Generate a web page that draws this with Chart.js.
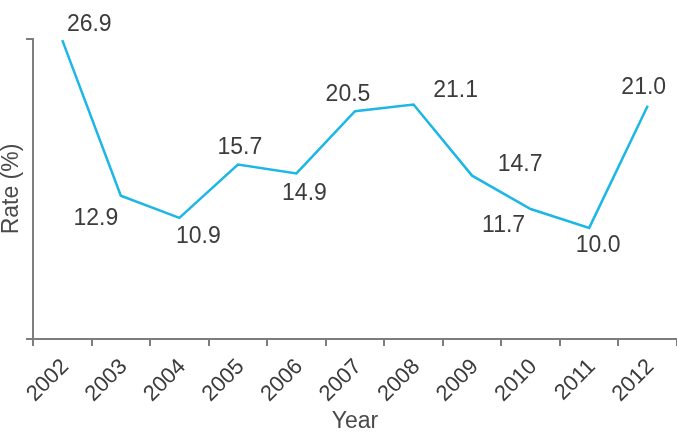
<!DOCTYPE html>
<html>
<head>
<meta charset="utf-8">
<style>
  html, body { margin: 0; padding: 0; background: #fff; }
  #wrap { width: 677px; height: 433px; position: relative; }
</style>
<script src="https://cdn.jsdelivr.net/npm/chart.js@4/dist/chart.umd.min.js"></script>
</head>
<body>
<div id="wrap"><canvas id="chart"></canvas></div>
<script>
var years = ['2002', '2003', '2004', '2005', '2006', '2007', '2008', '2009', '2010', '2011', '2012'];
var rates = [26.9, 12.9, 10.9, 15.7, 14.9, 20.5, 21.1, 14.7, 11.7, 10.0, 21.0];
var rateLabels = ['26.9', '12.9', '10.9', '15.7', '14.9', '20.5', '21.1', '14.7', '11.7', '10.0', '21.0'];

// where each value label sits relative to its point (px)
var labelShift = [[27, -15], [-25, 23], [19, 19], [2, -17], [8, 20], [-7, -17],
                  [42, -14], [48, -11], [-27, 17], [9, 18], [-4, -18]];

var FONT = '"Liberation Sans", Arial, sans-serif';
var AXIS = '#7d7d7d';
var TEXT = '#3c3c3c';

var valueLabels = {
  id: 'valueLabels',
  afterDatasetsDraw: function(chart) {
    var ctx = chart.ctx;
    var meta = chart.getDatasetMeta(0);
    ctx.save();
    ctx.font = '23px ' + FONT;
    ctx.fillStyle = TEXT;
    ctx.textAlign = 'center';
    ctx.textBaseline = 'middle';
    meta.data.forEach(function(pt, i) {
      ctx.fillText(rateLabels[i], pt.x + labelShift[i][0], pt.y + labelShift[i][1]);
    });
    ctx.restore();
  }
};

new Chart(document.getElementById('chart'), {
  type: 'line',
  data: {
    labels: years,
    datasets: [{
      data: rates,
      borderColor: '#1cb7e6',
      borderWidth: 2.5,
      pointRadius: 0,
      tension: 0,
      fill: false
    }]
  },
  options: {
    responsive: true,
    maintainAspectRatio: false,
    animation: false,
    layout: { padding: { top: 39, right: 0, left: 0, bottom: 0 } },
    plugins: {
      legend: { display: false },
      tooltip: { enabled: false }
    },
    scales: {
      x: {
        offset: true,
        border: { color: AXIS, width: 2 },
        grid: {
          offset: true,
          drawOnChartArea: false,
          tickLength: 7,
          lineWidth: 2,
          color: function(c) { return c.index === years.length ? 'rgba(0,0,0,0)' : AXIS; }
        },
        ticks: {
          autoSkip: false,
          minRotation: 45,
          maxRotation: 45,
          padding: 8,
          labelOffset: 3,
          color: TEXT,
          font: { family: FONT, size: 22 }
        },
        title: {
          display: true,
          text: 'Year',
          color: '#4a4a4a',
          padding: 0,
          font: { family: FONT, size: 23, lineHeight: 1 }
        },
        afterFit: function(s) { s.height = 94; }
      },
      y: {
        min: 0,
        max: 27,
        afterBuildTicks: function(s) { s.ticks = [{ value: 0 }, { value: 27 }]; },
        border: { color: AXIS, width: 2 },
        grid: {
          drawOnChartArea: false,
          tickLength: 7,
          lineWidth: 2,
          color: AXIS
        },
        ticks: { display: false },
        title: {
          display: true,
          text: 'Rate (%)',
          color: '#4a4a4a',
          padding: 0,
          font: { family: FONT, size: 23, lineHeight: 1 }
        },
        afterFit: function(s) { s.width = 33; }
      }
    }
  },
  plugins: [valueLabels]
});
</script>
</body>
</html>
